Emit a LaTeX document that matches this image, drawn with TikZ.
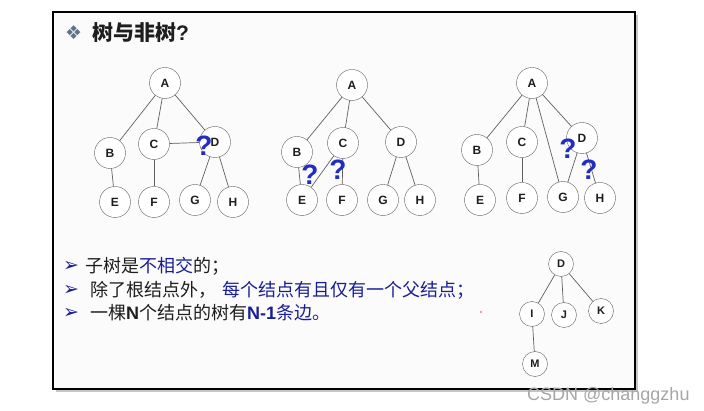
\documentclass[tikz,border=0pt]{standalone}
\usepackage{fontspec}
\setmainfont{Liberation Sans}
\newfontfamily\cjk{Noto Sans CJK SC}
\newfontfamily\symfont{DejaVu Sans}
\usepackage{xcolor}
\usepackage{tikz}
\usetikzlibrary{positioning}

\definecolor{slideblue}{RGB}{25,30,150}
\definecolor{qblue}{RGB}{35,45,195}
\definecolor{edgegray}{RGB}{95,95,95}
\definecolor{textdark}{RGB}{30,30,30}
\definecolor{diamondgray}{RGB}{95,115,140}

\tikzset{
  tnode/.style={circle, draw=edgegray, fill=white, minimum size=31pt, inner sep=0pt,
                font=\fontsize{12}{12}\selectfont\bfseries, text=textdark},
  smallnode/.style={tnode, minimum size=25pt, font=\fontsize{11}{11}\selectfont\bfseries},
  edge/.style={draw=edgegray, line width=0.7pt},
  qmark/.style={font=\fontsize{28}{28}\selectfont\bfseries, text=qblue, inner sep=0pt},
  bullet/.style={anchor=west, inner sep=0pt, font=\symfont\bfseries\fontsize{19}{19}\selectfont, text=slideblue},
  line/.style={anchor=west, inner sep=0pt, font=\cjk\fontsize{18}{18}\selectfont, text=textdark}
}

\begin{document}
\begin{tikzpicture}[x=1pt, y=-1pt]
\useasboundingbox (0,0) rectangle (704,411);
% Slide frame with shadow
\fill[gray!45] (56,15) rectangle (638,392);
\filldraw[fill=gray!3, draw=black, line width=2.5pt] (53,12) rectangle (635,389);
% Title
\node[anchor=west, inner sep=0pt, font=\symfont\fontsize{19}{19}\selectfont, text=diamondgray] (deco) at (65,33) {❖};
\node[anchor=west, inner sep=0pt, font=\cjk\fontsize{21}{21}\selectfont\bfseries, text=textdark] (title) at (92,33) {树与非树{\rmfamily\bfseries ?}};

% Tree 1 -- C and D joined
\foreach \nm/\px/\py in {A/165/83, B/110/153, C/154/144, D/215/142, E/115/202, F/154/202, G/195/200, H/233/202}
    \node[tnode] (p1\nm) at (\px,\py) {\nm};
\foreach \u/\v in {A/B, A/C, A/D, B/E, C/F, C/D, D/G, D/H}
    \draw[edge] (p1\u) -- (p1\v);
\node[qmark] (q1) at (204,146) {?};

% Tree 2 -- E has two parents
\foreach \nm/\px/\py in {A/352/85, B/297/152, C/343/143, D/401/142, E/302/200, F/342/200, G/383/200, H/420/200}
    \node[tnode] (p2\nm) at (\px,\py) {\nm};
\foreach \u/\v in {A/B, A/C, A/D, B/E, C/E, C/F, D/G, D/H}
    \draw[edge] (p2\u) -- (p2\v);
\node[qmark] (q2) at (310,175) {?};
\node[qmark] (q3) at (338,170) {?};

% Tree 3 -- G has two parents
\foreach \nm/\px/\py in {A/532/83, B/477/150, C/522/142, D/582/138, E/480/200, F/522/198, G/563/197, H/600/198}
    \node[tnode] (p3\nm) at (\px,\py) {\nm};
\foreach \u/\v in {A/B, A/C, A/G, A/D, B/E, C/F, D/G, D/H}
    \draw[edge] (p3\u) -- (p3\v);
\node[qmark] (q4) at (568,149) {?};
\node[qmark] (q5) at (589,170) {?};

% Tree 4 -- small subtree
\foreach \nm/\px/\py in {D/561/264, I/532/314, J/564/315, K/601/311, M/535/364}
    \node[smallnode] (p4\nm) at (\px,\py) {\nm};
\foreach \u/\v in {D/I, D/J, D/K, I/M}
    \draw[edge] (p4\u) -- (p4\v);

% Bullet lines
\node[bullet] (b1) at (63,266) {➢};
\node[bullet] (b2) at (63,290) {➢};
\node[bullet] (b3) at (63,313) {➢};
\node[line] (l1) at (85,266) {子树是{\color{slideblue}不相交}的；};
\node[line] (l2) at (90,290) {除了根结点外，\hspace{6pt}{\color{slideblue}每个结点有且仅有一个父结点；}};
\node[line] (l3) at (90,313) {一棵{\rmfamily\bfseries N}个结点的树有{\color{slideblue}{\rmfamily\bfseries N-1}条边。}};
\fill[red!80] (481,312) circle (0.9);

% Watermark
\node[anchor=west, inner sep=0pt, font=\fontsize{18}{18}\selectfont, text=gray!70] (mark) at (527,396) {CSDN @changgzhu};
\end{tikzpicture}
\end{document}
